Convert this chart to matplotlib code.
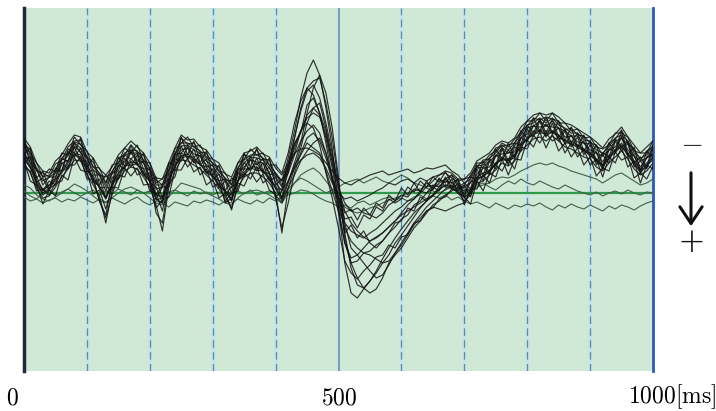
import numpy as np
import matplotlib
matplotlib.use("Agg")
import matplotlib.pyplot as plt
from matplotlib.patches import FancyArrowPatch

# time axis [ms], 10 ms steps
t_ms = list(range(0, 1001, 10))

# amplitude (0.1 uV units), negative = up
trace_a1 = [-48,-44,-22,-20,-16,-29,-33,-46,-52,-53,
            -36,-31,-18,-16,-20,-35,-38,-48,-41,-38,
            -24,-13,-8,-28,-38,-55,-49,-50,-41,-40,
            -29,-26,-13,-12,-24,-38,-36,-43,-34,-33,
            -18,-12,-35,-62,-95,-120,-133,-118,-85,-45,
            15,70,100,105,96,88,80,70,62,50,
            42,33,24,15,8,2,-6,-12,-10,-4,
            -8,-18,-26,-33,-34,-45,-47,-48,-50,-62,
            -67,-75,-73,-76,-74,-72,-63,-65,-58,-57,
            -50,-48,-38,-50,-54,-63,-50,-44,-33,-42,-46]
trace_a2 = [-35,-25,-10,2,-3,-14,-20,-30,-38,-36,
            -22,-17,-5,6,-8,-20,-27,-31,-30,-20,
            -12,6,10,-12,-27,-37,-39,-34,-29,-22,
            -18,-8,-2,8,-12,-21,-26,-26,-22,-16,
            -5,8,-10,-30,-50,-80,-105,-118,-100,-65,
            -15,40,75,92,95,88,78,66,55,45,
            36,28,20,14,8,3,-3,-8,-6,-1,
            4,0,-15,-16,-23,-28,-36,-30,-38,-46,
            -55,-58,-63,-57,-62,-55,-53,-48,-48,-41,
            -40,-31,-28,-34,-43,-46,-40,-28,-23,-26,-36]
trace_a3 = [-47,-35,-23,-12,-16,-20,-33,-37,-50,-45,
            -34,-23,-18,-7,-19,-27,-38,-40,-40,-30,
            -22,-4,-6,-20,-38,-47,-48,-43,-40,-32,
            -27,-18,-12,-5,-22,-30,-36,-35,-33,-25,
            -16,-6,-30,-55,-82,-102,-108,-95,-70,-40,
            -8,30,55,62,70,78,85,82,72,60,
            50,40,30,22,14,8,2,-4,-8,-3,
            -6,-10,-25,-26,-32,-37,-45,-40,-47,-55,
            -65,-67,-72,-67,-72,-65,-62,-57,-57,-50,
            -49,-40,-37,-43,-52,-55,-49,-37,-32,-35,-45]
trace_a4 = [-30,-20,-5,5,3,-6,-16,-24,-33,-32,
            -18,-8,3,30,-2,-14,-22,-26,-24,-16,
            -6,12,38,-5,-22,-33,-32,-28,-24,-18,
            -12,-4,4,15,-6,-16,-20,-20,-16,-10,
            0,40,-5,-25,-45,-70,-85,-78,-55,-25,
            15,50,65,62,55,48,44,40,34,28,
            22,18,14,10,6,2,-4,-8,-5,0,
            8,2,-10,-12,-18,-23,-30,-27,-32,-42,
            -48,-54,-56,-52,-57,-52,-46,-44,-40,-36,
            -34,-26,-22,-30,-36,-42,-34,-24,-18,-22,-30]
trace_a5 = [-55,-46,-30,-22,-20,-32,-38,-49,-58,-56,
            -41,-35,-24,-18,-26,-38,-45,-52,-46,-40,
            -30,-15,-14,-30,-45,-58,-53,-54,-46,-43,
            -34,-30,-19,-16,-30,-40,-42,-46,-39,-36,
            -25,-18,-30,-48,-62,-75,-80,-76,-58,-32,
            -5,18,30,38,44,48,45,40,34,28,
            20,12,6,0,-6,-12,-18,-22,-20,-14,
            -14,-20,-32,-36,-40,-48,-52,-50,-55,-66,
            -72,-78,-80,-78,-80,-76,-70,-68,-64,-60,
            -56,-51,-45,-54,-59,-66,-56,-48,-40,-46,-52]
trace_a6 = [-34,-36,-11,-15,-2,-22,-22,-41,-36,-45,
            -21,-23,-5,-6,-4,-28,-24,-43,-28,-32,
            -10,-6,10,-19,-24,-47,-34,-44,-28,-34,
            -14,-19,2,-6,-11,-31,-22,-35,-20,-26,
            -10,-2,-20,-38,-52,-62,-68,-60,-40,-15,
            5,26,24,35,22,26,14,18,6,10,
            6,-6,-1,-12,-6,-16,-11,-21,-10,-13,
            4,-12,-12,-26,-19,-38,-33,-43,-35,-55,
            -52,-68,-61,-69,-60,-65,-49,-58,-45,-52,
            -36,-41,-23,-44,-41,-57,-37,-38,-20,-36,-38]
trace_a7 = [-32,-12,-8,11,-3,3,-18,-13,-36,-23,
            -21,1,-3,16,-6,-5,-25,-17,-25,-8,
            -9,15,7,4,-23,-23,-35,-21,-26,-8,
            -13,5,0,17,-10,-7,-21,-11,-19,-3,
            2,10,-5,-18,-32,-42,-50,-55,-40,-15,
            4,20,16,27,15,22,10,15,2,8,
            -5,2,-10,-1,-12,-3,-15,-6,-14,0,
            4,11,-12,-2,-20,-16,-34,-18,-34,-33,
            -53,-46,-61,-45,-59,-42,-50,-36,-45,-28,
            -36,-17,-25,-22,-41,-33,-36,-15,-20,-14,-27]
trace_a8 = [-50,-38,-25,-16,-18,-23,-35,-40,-51,-49,
            -36,-26,-20,-10,-22,-30,-40,-43,-42,-33,
            -25,-8,-8,-23,-40,-50,-50,-46,-42,-35,
            -30,-21,-15,-8,-25,-33,-38,-38,-35,-28,
            -20,-12,-28,-40,-44,-45,-42,-38,-30,-22,
            -15,-10,-8,-12,-15,-18,-20,-22,-18,-20,
            -22,-24,-20,-22,-25,-24,-26,-28,-22,-18,
            -10,-14,-27,-28,-35,-40,-48,-43,-50,-58,
            -68,-70,-75,-70,-75,-68,-65,-60,-60,-53,
            -52,-43,-40,-46,-55,-58,-52,-40,-35,-38,-48]
trace_a9 = [-33,-27,-8,0,-5,-8,-22,-25,-39,-33,
            -24,-11,-7,5,-9,-15,-27,-28,-29,-18,
            -12,7,5,-10,-27,-35,-37,-31,-29,-20,
            -17,-6,-2,7,-12,-18,-25,-23,-22,-13,
            -7,5,-12,-25,-33,-38,-40,-35,-25,-10,
            0,6,4,8,5,2,-2,-5,-10,-8,
            -12,-14,-10,-15,-12,-16,-18,-20,-15,-10,
            5,-2,-12,-18,-20,-30,-33,-33,-35,-48,
            -53,-60,-60,-60,-60,-58,-50,-50,-45,-43,
            -37,-33,-25,-36,-40,-48,-37,-30,-20,-28,-33]
trace_a10 = [-40,-30,-12,-4,-8,-15,-30,-32,-47,-41,
             -28,-15,8,22,-10,-27,-31,-40,-33,-30,
             -16,20,30,-10,-35,-43,-45,-39,-37,-28,
             -23,-12,10,5,-20,-26,-33,-31,-30,-21,
             5,35,10,-20,-40,-55,-60,-52,-35,-12,
             10,35,48,55,60,62,66,70,68,60,
             52,42,32,25,18,14,16,18,15,12,
             10,-2,-19,-25,-26,-37,-39,-40,-41,-55,
             -59,-67,-66,-67,-66,-65,-56,-57,-51,-50,
             -43,-40,-31,-43,-46,-55,-43,-37,-26,-35,-39]
trace_a11 = [-38,-45,-15,-22,-4,-25,-22,-44,-40,-55,
             -26,-35,-8,-18,-10,-36,-27,-48,-30,-40,
             -12,-16,6,-30,-28,-56,-38,-52,-30,-42,
             -18,-28,-2,-15,-12,-40,-26,-45,-22,-35,
             -8,-14,-20,-50,-60,-88,-95,-80,-62,-30,
             5,40,32,45,38,50,55,48,40,30,
             28,15,18,4,8,-6,-2,-16,-6,-14,
             2,-16,-14,-32,-20,-44,-34,-50,-36,-62,
             -55,-75,-62,-76,-60,-72,-52,-66,-46,-58,
             -38,-48,-26,-50,-42,-62,-38,-46,-22,-42,-35]
trace_a12 = [-30,-36,-10,-2,-12,-8,-30,-24,-46,-32,
             -32,-10,-14,5,-16,-14,-35,-26,-38,-18,
             -20,6,-6,-6,-34,-32,-46,-30,-38,-20,
             -24,-5,-12,8,-20,-16,-34,-22,-30,-12,
             -16,6,-25,-40,-62,-70,-65,-48,-20,5,
             35,68,80,86,78,72,64,62,52,55,
             44,42,30,28,18,15,6,4,-4,-2,
             -8,4,-24,-12,-32,-24,-44,-28,-46,-42,
             -64,-56,-72,-56,-70,-52,-62,-46,-56,-38,
             -48,-28,-38,-30,-52,-42,-50,-26,-32,-24,-44]
trace_a13 = [-52,-40,-30,-16,-24,-22,-40,-38,-56,-48,
             -42,-26,-25,-10,-28,-30,-45,-40,-48,-32,
             -30,-10,-14,-22,-44,-50,-56,-46,-48,-36,
             -34,-22,-20,-8,-30,-34,-44,-38,-40,-28,
             -28,-20,-40,-70,-92,-105,-112,-115,-90,-55,
             -10,45,70,68,60,58,52,48,40,34,
             26,22,12,8,0,-4,-10,-14,-18,-12,
             -14,-16,-30,-30,-38,-42,-50,-46,-54,-60,
             -72,-72,-80,-72,-80,-70,-70,-62,-64,-55,
             -56,-46,-44,-48,-60,-60,-56,-42,-40,-40,-52]
trace_a14 = [-26,-22,-2,-4,2,-10,-12,-28,-28,-36,
             -14,-14,8,25,2,-18,-16,-32,-18,-22,
             -2,0,18,-10,-16,-38,-26,-34,-18,-24,
             -6,-10,8,0,-2,-20,-14,-26,-10,-16,
             4,-2,-12,-28,-38,-50,-45,-40,-22,-2,
             18,30,38,42,45,40,36,30,24,18,
             14,8,6,-2,0,-8,-6,-14,-4,-10,
             12,-4,-4,-18,-10,-28,-22,-34,-24,-46,
             -44,-58,-50,-60,-52,-56,-40,-50,-36,-44,
             -28,-34,-16,-36,-30,-46,-26,-32,-10,-28,-24]
trace_a15 = [-50,-30,-24,-8,-16,-16,-34,-32,-50,-40,
             -36,-18,-18,-2,-20,-22,-38,-34,-40,-24,
             -24,2,-8,-14,-38,-40,-48,-36,-40,-26,
             -28,-12,-14,0,-24,-24,-36,-28,-34,-18,
             -20,-8,-26,-45,-62,-78,-85,-90,-65,-35,
             -5,10,18,15,20,22,25,20,12,8,
             2,4,-4,-2,-10,-6,-14,-10,-18,-6,
             -10,-4,-28,-18,-34,-28,-46,-32,-50,-48,
             -68,-60,-74,-60,-74,-56,-64,-50,-60,-42,
             -52,-32,-40,-36,-54,-46,-52,-30,-36,-26,-48]
trace_a16 = [-40,-26,-16,-2,-8,-12,-22,-32,-40,-38,
             -26,-14,-6,4,-8,-20,-26,-34,-28,-24,
             -12,2,4,-14,-26,-40,-36,-36,-28,-26,
             -16,-12,-2,2,-12,-24,-24,-30,-20,-20,
             -4,-4,-24,-55,-85,-105,-98,-80,-50,-15,
             20,50,70,85,95,100,96,85,70,62,
             55,45,35,28,20,12,8,2,-2,-6,
             -2,-4,-16,-20,-22,-30,-34,-34,-38,-50,
             -54,-62,-62,-62,-62,-58,-52,-52,-48,-44,
             -40,-34,-28,-38,-42,-50,-40,-32,-24,-30,-36]

trace_b1 = [4,8,6,10,7,5,9,6,8,4,
            7,10,6,9,5,8,11,7,4,9,
            12,8,10,14,9,11,13,8,10,7,
            9,12,8,10,6,9,11,7,10,5,
            8,4,2,0,-3,-2,1,5,8,10,
            14,12,15,10,8,12,9,6,4,7,
            5,8,4,2,6,3,5,2,7,4,
            8,11,9,12,15,10,13,16,12,14,
            11,13,10,14,17,12,15,11,14,16,
            12,15,18,13,16,12,14,17,13,10,8]
trace_b2 = [-2,3,6,0,-3,2,-1,-4,0,3,
            0,-3,2,-2,1,-4,-1,2,-3,0,
            -2,1,4,-1,-3,0,3,-2,1,-1,
            2,-1,3,0,-2,1,-3,2,0,-2,
            0,3,-4,-10,-15,-12,-8,-4,0,-3,
            -6,-10,-12,-14,-10,-13,-16,-12,-10,-14,
            -18,-15,-10,-8,-5,-2,0,-3,-6,-8,
            -4,-2,-8,-10,-6,-3,-8,-12,-9,-14,
            -10,-8,-12,-9,-6,-4,-8,-5,-2,0,
            2,-1,3,0,-2,1,-3,0,2,-1,0]
trace_b3 = [-8,-5,2,6,8,4,0,-4,-9,-6,
            -2,3,8,10,5,0,-4,-6,-3,0,
            5,10,12,4,-3,-10,-8,-6,-4,0,
            3,6,10,12,5,0,-2,-3,-1,2,
            6,10,0,-10,-18,-22,-25,-20,-12,-4,
            6,14,18,20,18,15,13,10,7,5,
            3,0,-2,-4,-6,-7,-8,-6,-4,-2,
            0,-2,-6,-8,-10,-14,-16,-15,-18,-22,
            -25,-28,-30,-28,-30,-27,-25,-22,-20,-18,
            -16,-14,-10,-14,-18,-20,-16,-12,-8,-10,-14]

black_traces = [trace_a1, trace_a2, trace_a3, trace_a4, trace_a5, trace_a6,
                trace_a7, trace_a8, trace_a9, trace_a10, trace_a11, trace_a12,
                trace_a13, trace_a14, trace_a15, trace_a16]
flat_traces = [trace_b1, trace_b2, trace_b3]

grid_dashed = [100, 200, 300, 400, 600, 700, 800, 900]
grid_solid = [500]
x_labels = ["0", "500", "1000[ms]"]

W, H = 716, 411
fig = plt.figure(figsize=(W / 100, H / 100), dpi=100)
ax = fig.add_axes([24 / W, 1 - 371 / H, (653 - 24) / W, (371 - 8) / H])
ax.set_facecolor("#d0e8d6")
ax.set_xlim(0, 1000)
ax.set_ylim(178, -185)
ax.set_xticks([])
ax.set_yticks([])
for side in ["top", "bottom"]:
    ax.spines[side].set_visible(False)
ax.spines["left"].set_color("#1f2a3c")
ax.spines["left"].set_linewidth(2.5)
ax.spines["right"].set_color("#2b58c0")
ax.spines["right"].set_linewidth(2.0)

for gx in grid_dashed:
    ax.axvline(gx, color="#c2e2ec", lw=2.5, zorder=1)
    ax.axvline(gx, color="#5b8ca8", lw=0.9, dashes=(6, 3.5), zorder=1.1)
for gx in grid_solid:
    ax.axvline(gx, color="#6f96bd", lw=1.3, zorder=1.1)

ax.axhline(0, color="#2f9a4c", lw=1.6, zorder=2)

for tr in flat_traces:
    ax.plot(t_ms, tr, color="#3f6049", lw=0.8, zorder=3)
for tr in black_traces:
    ax.plot(t_ms, tr, color="#111111", lw=0.85, alpha=0.85, zorder=4)

plt.rcParams["mathtext.fontset"] = "cm"
lab_y = 1 - 397 / H
fig.text(12 / W, lab_y, r"$\mathrm{" + x_labels[0] + "}$", ha="center", va="center", fontsize=17)
fig.text(339 / W, lab_y, r"$\mathrm{" + x_labels[1] + "}$", ha="center", va="center", fontsize=17)
fig.text(716 / W, lab_y, r"$\mathrm{" + x_labels[2] + "}$", ha="right", va="center", fontsize=17)

fig.text(693 / W, 1 - 146 / H, "\u2212", ha="center", va="center", fontsize=20,
         color="#333333", fontweight="light")
fig.text(691 / W, 1 - 242 / H, "+", ha="center", va="center", fontsize=24,
         color="#111111", fontweight="light")
arr = FancyArrowPatch((691 / W, 1 - 170 / H), (691 / W, 1 - 229 / H),
                      transform=fig.transFigure, arrowstyle="->,head_length=6,head_width=4",
                      lw=2.2, color="#111111", mutation_scale=2)
fig.patches.append(arr)

fig.savefig("out.png", dpi=100)
